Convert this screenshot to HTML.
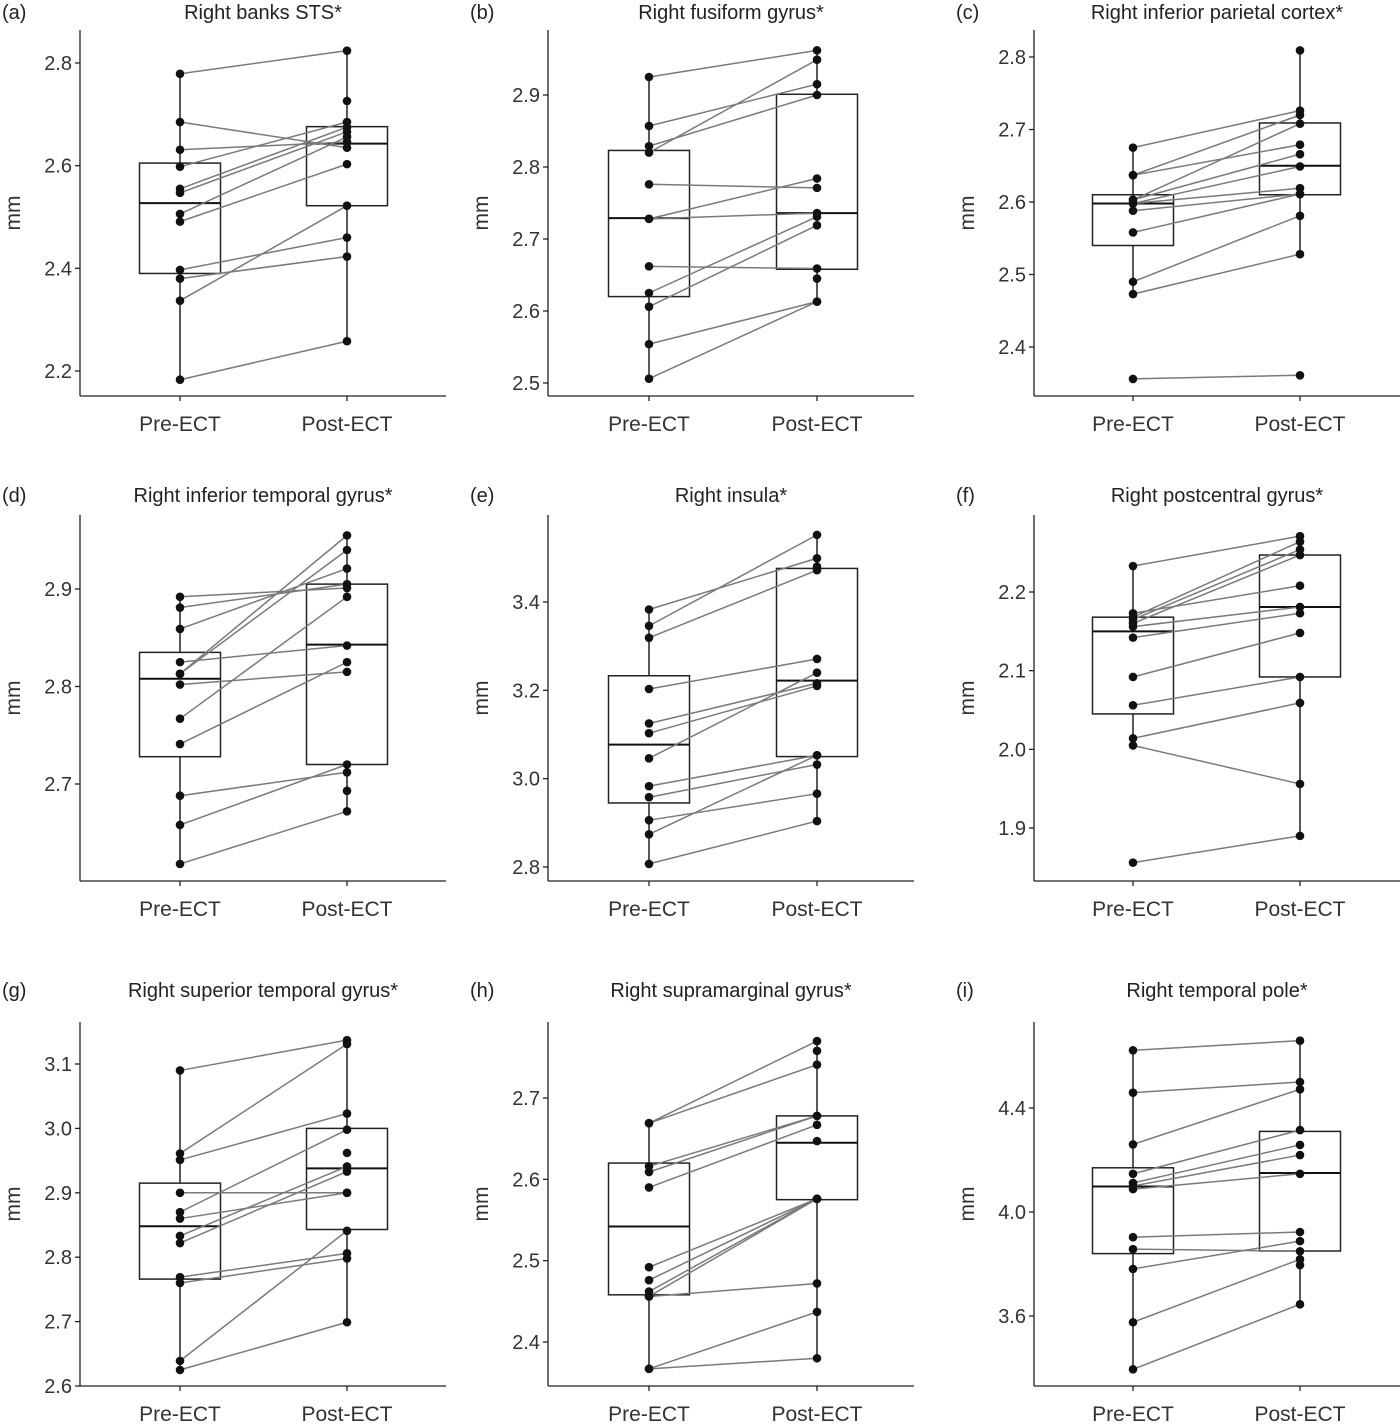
<!DOCTYPE html>
<html><head><meta charset="utf-8">
<style>
html,body{margin:0;padding:0;background:#fff;}
svg{display:block;font-family:"Liberation Sans",sans-serif;}
</style></head>
<body>
<svg id="chart" width="1400" height="1428" viewBox="0 0 1400 1428" xmlns="http://www.w3.org/2000/svg"></svg>
<script>
const categories = ["Pre-ECT","Post-ECT"];
const titles = ["Right banks STS*","Right fusiform gyrus*","Right inferior parietal cortex*","Right inferior temporal gyrus*","Right insula*","Right postcentral gyrus*","Right superior temporal gyrus*","Right supramarginal gyrus*","Right temporal pole*"];
const letters = ["(a)","(b)","(c)","(d)","(e)","(f)","(g)","(h)","(i)"];

// paired values (post arrays may contain extra unpaired points at the end)
const preA = [2.779,2.685,2.631,2.598,2.555,2.547,2.506,2.491,2.397,2.380,2.337,2.183];
const postA = [2.824,2.635,2.646,2.685,2.675,2.666,2.656,2.603,2.460,2.423,2.522,2.258,2.726];
const preB = [2.925,2.857,2.829,2.820,2.776,2.728,2.728,2.662,2.625,2.606,2.554,2.506];
const postB = [2.962,2.915,2.900,2.949,2.771,2.784,2.736,2.659,2.731,2.719,2.613,2.613,2.645];
const preC = [2.675,2.637,2.637,2.603,2.603,2.598,2.598,2.588,2.558,2.490,2.473,2.356];
const postC = [2.726,2.679,2.720,2.666,2.708,2.649,2.619,2.611,2.611,2.581,2.528,2.361,2.809];
const preD = [2.892,2.881,2.859,2.825,2.813,2.813,2.802,2.767,2.741,2.688,2.658,2.618];
const postD = [2.901,2.905,2.921,2.842,2.955,2.940,2.815,2.892,2.825,2.712,2.720,2.672,2.693];
const preE = [3.383,3.346,3.319,3.203,3.125,3.103,3.046,2.983,2.958,2.906,2.874,2.807];
const postE = [3.499,3.552,3.472,3.271,3.216,3.210,3.240,3.053,3.032,2.966,3.053,2.904,3.480];
const preF = [2.233,2.173,2.168,2.165,2.160,2.156,2.142,2.092,2.056,2.014,2.005,1.856];
const postF = [2.271,2.208,2.264,2.254,2.247,2.181,2.173,2.148,2.092,2.059,1.956,1.890];
const preG = [3.090,2.961,2.951,2.900,2.870,2.860,2.833,2.822,2.769,2.760,2.639,2.625];
const postG = [3.137,3.131,3.023,2.900,2.998,2.900,2.941,2.933,2.806,2.798,2.841,2.699,2.962];
const preH = [2.669,2.669,2.616,2.609,2.590,2.492,2.476,2.462,2.456,2.456,2.367,2.367];
const postH = [2.770,2.741,2.678,2.678,2.667,2.576,2.576,2.576,2.576,2.472,2.437,2.380,2.758,2.647];
const preI = [4.622,4.459,4.260,4.147,4.112,4.100,4.088,3.903,3.857,3.781,3.576,3.395];
const postI = [4.659,4.500,4.472,4.315,4.258,4.219,4.147,3.923,3.849,3.888,3.818,3.645,3.796];

// box stats: [q1, median, q3, whiskerLow, whiskerHigh]
const boxPreA=[2.39,2.527,2.605,2.183,2.779], boxPostA=[2.522,2.643,2.676,2.258,2.824];
const boxPreB=[2.62,2.729,2.823,2.506,2.925], boxPostB=[2.658,2.736,2.901,2.613,2.962];
const boxPreC=[2.54,2.598,2.61,2.473,2.675], boxPostC=[2.61,2.65,2.709,2.528,2.809];
const boxPreD=[2.728,2.808,2.835,2.618,2.892], boxPostD=[2.72,2.843,2.905,2.672,2.955];
const boxPreE=[2.945,3.077,3.233,2.807,3.383], boxPostE=[3.05,3.222,3.476,2.904,3.552];
const boxPreF=[2.045,2.15,2.168,2.005,2.233], boxPostF=[2.092,2.181,2.247,1.890,2.271];
const boxPreG=[2.766,2.848,2.915,2.625,3.090], boxPostG=[2.843,2.938,3.0,2.699,3.137];
const boxPreH=[2.458,2.542,2.62,2.367,2.669], boxPostH=[2.575,2.645,2.678,2.380,2.770];
const boxPreI=[3.84,4.098,4.17,3.395,4.622], boxPostI=[3.85,4.15,4.31,3.645,4.659];

const ticksA = [2.2,2.4,2.6,2.8];
const ticksB = [2.5,2.6,2.7,2.8,2.9];
const ticksC = [2.4,2.5,2.6,2.7,2.8];
const ticksD = [2.7,2.8,2.9];
const ticksE = [2.8,3.0,3.2,3.4];
const ticksF = [1.9,2.0,2.1,2.2];
const ticksG = [2.6,2.7,2.8,2.9,3.0,3.1];
const ticksH = [2.4,2.5,2.6,2.7];
const ticksI = [3.6,4.0,4.4];

const preSets=[preA,preB,preC,preD,preE,preF,preG,preH,preI];
const postSets=[postA,postB,postC,postD,postE,postF,postG,postH,postI];
const boxSets=[[boxPreA,boxPostA],[boxPreB,boxPostB],[boxPreC,boxPostC],[boxPreD,boxPostD],[boxPreE,boxPostE],[boxPreF,boxPostF],[boxPreG,boxPostG],[boxPreH,boxPostH],[boxPreI,boxPostI]];
const tickSets=[ticksA,ticksB,ticksC,ticksD,ticksE,ticksF,ticksG,ticksH,ticksI];
const cal=[[2.8,63,2.2,371],[2.9,95,2.5,383],[2.8,57,2.4,347],[2.9,589,2.7,784],[3.4,602,2.8,867],[2.2,592,1.9,828],[3.1,1064,2.6,1386],[2.7,1098,2.4,1342],[4.4,1108,3.6,1316]];
const axX=[80,548,1034], xPre=[180,649,1133], xPost=[347,817,1300];
const topY=[30,515,1022], botY=[396,881,1386], titleY=[19,502,997];

const NS="http://www.w3.org/2000/svg";
const svg=document.getElementById('chart');
function mk(tag,attrs,parent){const e=document.createElementNS(NS,tag);for(const k in attrs)e.setAttribute(k,attrs[k]);(parent||svg).appendChild(e);return e;}

for(let i=0;i<9;i++){
  const col=i%3,row=Math.floor(i/3);
  const c=cal[i];
  const y=v=>c[1]+(v-c[0])*(c[3]-c[1])/(c[2]-c[0]);
  const g=mk('g',{});
  
  
  const ax=axX[col], top=topY[row], bot=botY[row];
  const xs=[xPre[col],xPost[col]];
  const t=mk('text',{x:ax+183,y:titleY[row],'text-anchor':'middle','font-size':20,fill:'#222'},g);
  t.textContent=titles[i];
  
  
  const l=mk('text',{x:ax-78,y:titleY[row],'font-size':20,fill:'#222'},g);
  l.textContent=letters[i];
  
  
  const ya=mk('line',{x1:ax,y1:top,x2:ax,y2:bot,stroke:'#222','stroke-width':1.3},g);
  
  
  const xa=mk('line',{x1:ax,y1:bot,x2:ax+366,y2:bot,stroke:'#222','stroke-width':1.3},g);
  
  
  tickSets[i].forEach(v=>{
    const yy=y(v);
    mk('line',{x1:ax-5,y1:yy,x2:ax,y2:yy,stroke:'#222','stroke-width':1.3},g);
    const tl=mk('text',{x:ax-8,y:yy+7,'text-anchor':'end','font-size':20,fill:'#333'},g);
    tl.textContent=v.toFixed(1);
    
    
  });
  categories.forEach((cname,k)=>{
    mk('line',{x1:xs[k],y1:bot,x2:xs[k],y2:bot+5,stroke:'#222','stroke-width':1.3},g);
    const xl=mk('text',{x:xs[k],y:bot+35,'text-anchor':'middle','font-size':21,fill:'#333'},g);
    xl.textContent=cname;
    
    
  });
  const yt=mk('text',{x:0,y:0,'text-anchor':'middle','font-size':21,fill:'#333',transform:`translate(${ax-60},${(top+bot)/2}) rotate(-90)`},g);
  yt.textContent='mm';
  
  
  boxSets[i].forEach((b,k)=>{
    const [q1,md,q3,lo,hi]=b;
    const x=xs[k];
    const wk=mk('line',{x1:x,y1:y(hi),x2:x,y2:y(lo),stroke:'#222','stroke-width':1.5},g);
    
    
    const bx=mk('rect',{x:x-40.5,y:y(q3),width:81,height:y(q1)-y(q3),fill:'#fff',stroke:'#222','stroke-width':1.5},g);
    
    
    const ml=mk('line',{x1:x-40.5,y1:y(md),x2:x+40.5,y2:y(md),stroke:'#111','stroke-width':2},g);
    
    
  });
  preSets[i].forEach((v,j)=>{
    const pl=mk('line',{x1:xs[0],y1:y(v),x2:xs[1],y2:y(postSets[i][j]),stroke:'#7a7a7a','stroke-width':1.5},g);
    
    
  });
  [preSets[i],postSets[i]].forEach((d,k)=>{
    d.forEach(v=>{
      const p=mk('circle',{cx:xs[k],cy:y(v),r:4.3,fill:'#111'},g);
      
      
    });
  });
}
</script>
</body></html>
